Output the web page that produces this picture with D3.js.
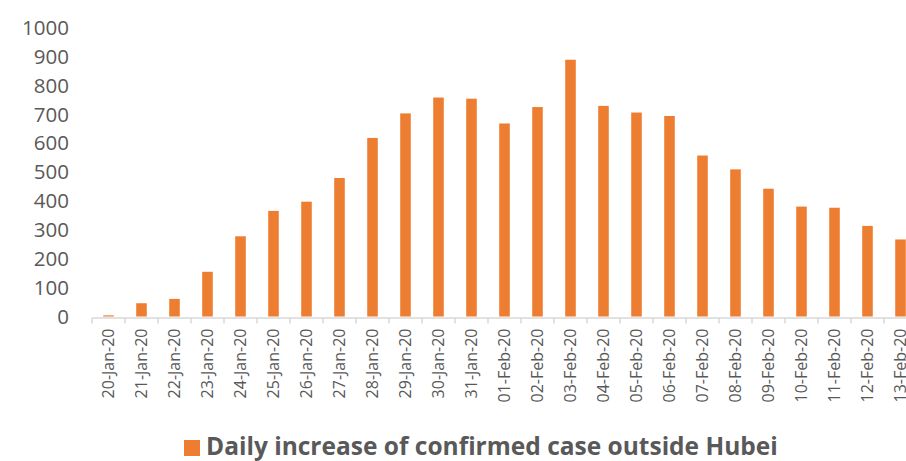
<!DOCTYPE html>
<html>
<head>
<meta charset="utf-8">
<script src="https://cdn.jsdelivr.net/npm/d3@7"></script>
<style>
  body { margin: 0; background: #fff; }
  svg { display: block; font-family: "Open Sans", Lato, sans-serif; }
</style>
</head>
<body>
<div class="vis1"></div>
<script>
// data
const dates = ['20-Jan-20', '21-Jan-20', '22-Jan-20', '23-Jan-20', '24-Jan-20', '25-Jan-20',
  '26-Jan-20', '27-Jan-20', '28-Jan-20', '29-Jan-20', '30-Jan-20', '31-Jan-20',
  '01-Feb-20', '02-Feb-20', '03-Feb-20', '04-Feb-20', '05-Feb-20', '06-Feb-20',
  '07-Feb-20', '08-Feb-20', '09-Feb-20', '10-Feb-20', '11-Feb-20', '12-Feb-20', '13-Feb-20'];
const dailyCases = [4, 46, 61, 155, 278, 366, 398, 480, 619, 704, 759, 755,
  669, 726, 890, 730, 707, 695, 558, 510, 443, 381, 377, 314, 267];
const yTicks = [0, 100, 200, 300, 400, 500, 600, 700, 800, 900, 1000];
const seriesName = 'Daily increase of confirmed case outside Hubei';

// frame
const FRAME_WIDTH = 906;
const FRAME_HEIGHT = 461;
const PLOT = {left: 92, top: 28, bottom: 316.5};
const STEP = 33;
const ORANGE = '#ED7D31';
const GREY_TEXT = '#595959';
const GREY_LINE = '#d9d9d9';

const FRAME = d3.select('.vis1')
  .append('svg')
    .attr('width', FRAME_WIDTH)
    .attr('height', FRAME_HEIGHT);

// scales (the chart is clipped on the right, like the original)
const xscale = d3.scaleBand()
  .domain(dates)
  .range([PLOT.left, PLOT.left + STEP * dates.length])
  .paddingInner(0.68)
  .paddingOuter(0.34);

const yscale = d3.scaleLinear()
  .domain([0, 1000])
  .range([PLOT.bottom, PLOT.top]);

// y axis labels, no line
const yAxis = FRAME.append('g')
  .attr('transform', 'translate(' + 69 + ',0)')
  .call(d3.axisLeft(yscale).tickValues(yTicks).tickFormat(d3.format('d')).tickSize(0).tickPadding(0));
yAxis.select('.domain').remove();
yAxis.selectAll('text')
  .attr('fill', GREY_TEXT)
  .attr('font-size', '20.5px')
  .attr('font-family', '"Open Sans", sans-serif');

// bars
FRAME.selectAll('.bar')
  .data(dailyCases)
  .enter().append('rect')
    .attr('class', 'bar')
    .attr('x', (d, i) => xscale(dates[i]))
    .attr('y', (d) => yscale(d))
    .attr('width', xscale.bandwidth())
    .attr('height', (d) => PLOT.bottom - yscale(d))
    .attr('fill', ORANGE);

// x axis with rotated labels
const axisY = PLOT.bottom + 1;
const xAxis = FRAME.append('g')
  .attr('transform', 'translate(0,' + axisY + ')')
  .call(d3.axisBottom(xscale).tickSize(0).tickSizeOuter(0));
xAxis.select('.domain')
  .attr('stroke', GREY_LINE)
  .attr('stroke-width', 1.5);
xAxis.selectAll('text')
  .attr('transform', 'rotate(-90)')
  .attr('x', -11)
  .attr('y', 0)
  .attr('dy', '0.35em')
  .attr('text-anchor', 'end')
  .attr('fill', GREY_TEXT)
  .attr('font-size', '16px')
  .attr('font-family', '"Open Sans", sans-serif');

// category boundary ticks
const half = (xscale.step() - xscale.bandwidth()) / 2;
const bounds = dates.map((d) => xscale(d) - half).concat([xscale(dates[dates.length - 1]) + xscale.bandwidth() + half]);
FRAME.selectAll('.bound')
  .data(bounds)
  .enter().append('line')
    .attr('x1', (d) => d).attr('x2', (d) => d)
    .attr('y1', axisY).attr('y2', axisY + 6)
    .attr('stroke', GREY_LINE)
    .attr('stroke-width', 1.5);

// legend
FRAME.append('rect')
  .attr('x', 184).attr('y', 440)
  .attr('width', 16).attr('height', 16)
  .attr('fill', ORANGE);
FRAME.append('text')
  .attr('x', 206).attr('y', 455)
  .attr('font-size', '24.5px')
  .attr('font-weight', 'bold')
  .attr('fill', GREY_TEXT)
  .attr('font-family', '"Open Sans", sans-serif')
  .text(seriesName);
</script>
</body>
</html>
